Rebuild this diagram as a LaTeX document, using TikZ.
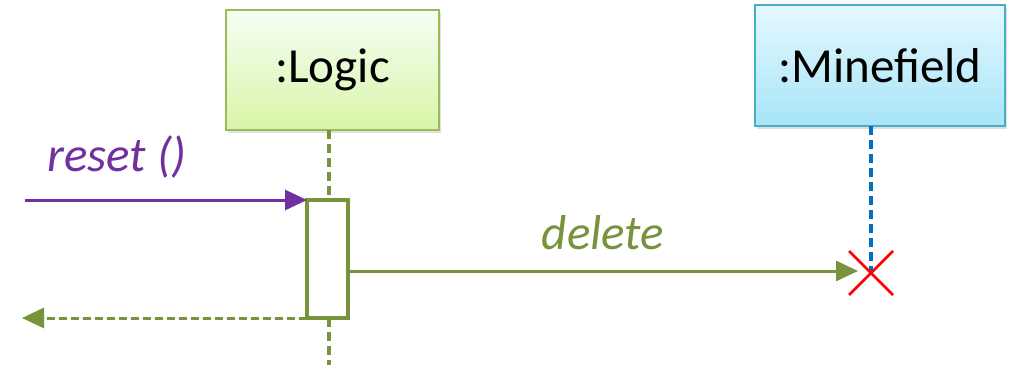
\documentclass[tikz,border=0pt]{standalone}
\usepackage{fontspec}
\setmainfont{Carlito}
\usetikzlibrary{arrows.meta,shadows}
\definecolor{lgreen}{HTML}{77933C}
\definecolor{lborder}{HTML}{9BBB59}
\definecolor{mborder}{HTML}{4BACC6}
\definecolor{lblue}{HTML}{0070C0}
\definecolor{purp}{HTML}{7030A0}
\begin{document}
\begin{tikzpicture}[x=1pt,y=-1pt,
  objbox/.style={draw, line width=2pt, anchor=north west, inner sep=0pt, outer sep=0pt,
    font=\fontsize{49}{55}\selectfont,
    drop shadow={shadow xshift=2pt, shadow yshift=-3pt, opacity=0.25}},
  lifeline/.style={line width=4pt, dash pattern=on 9pt off 5pt},
  msg/.style={line width=3pt, -{Triangle[length=22pt,width=20pt]}},
  lbl/.style={font=\fontsize{49}{55}\selectfont\itshape}
]
\useasboundingbox (0,0) rectangle (1020,375);
\node[objbox, draw=lborder, top color=green!4!white, bottom color={rgb,255:red,216;green,245;blue,168},
  minimum width=213pt, minimum height=120pt] (logic) at (226,10) {:Logic};
\node[objbox, draw=mborder, top color={rgb,255:red,228;green,248;blue,254}, bottom color={rgb,255:red,168;green,228;blue,248},
  minimum width=250pt, minimum height=121pt] (mine) at (755,5) {:Minefield};
\node[draw=lgreen, line width=4pt, minimum width=41pt, minimum height=118pt, inner sep=0pt, outer sep=0pt, anchor=north west] (act) at (307,200) {};
\coordinate (lend) at (329,365);
\coordinate (mx) at (871,273);
\draw[lifeline, draw=lgreen] (logic.south -| 329,0) -- (329,200);
\draw[lifeline, draw=lgreen] (329,318) -- (lend);
\draw[lifeline, draw=lblue] (mine.south -| mx) -- (mx);
\coordinate (rstart) at (25,200);
\draw[msg, draw=purp, fill=purp] (rstart) -- (act.north west);
\node[lbl, text=purp] (rlbl) at (117,157) {reset ()};
\draw[msg, draw=lgreen, fill=lgreen] (act.east |- 0,271) -- (858,271) coordinate (dend);
\node[lbl, text=lgreen] (dlbl) at (603,233) {delete};
\coordinate (retend) at (22,318);
\draw[msg, draw=lgreen, fill=lgreen, dash pattern=on 8pt off 4pt] (act.south west) -- (retend);
\draw[red, line width=2.5pt] (849,251) -- (893,295) (893,251) -- (849,295);
\end{tikzpicture}
\end{document}
